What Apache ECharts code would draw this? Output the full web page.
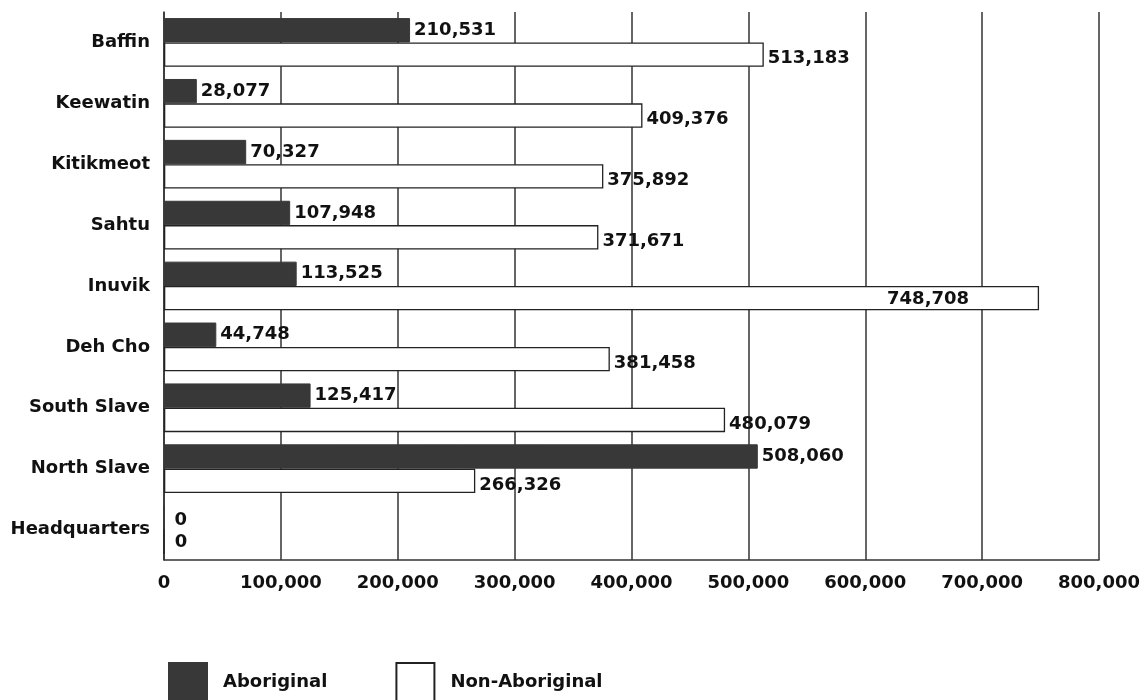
<!DOCTYPE html>
<html>
<head>
<meta charset="utf-8">
<script src="https://cdn.jsdelivr.net/npm/echarts@6/dist/echarts.min.js"></script>
<style>html,body{margin:0;padding:0;background:#fff}#c{width:1144px;height:700px}</style>
</head>
<body>
<div id="c"></div>
<script>
var categories = ['Baffin','Keewatin','Kitikmeot','Sahtu','Inuvik','Deh Cho','South Slave','North Slave','Headquarters'];
var aboriginal = [210531, 28077, 70327, 107948, 113525, 44748, 125417, 508060, 0];
var nonAboriginal = [513183, 409376, 375892, 371671, 748708, 381458, 480079, 266326, 0];
var seriesNames = ['Aboriginal', 'Non-Aboriginal'];

function fmt(v){ return String(v).replace(/\B(?=(\d{3})+(?!\d))/g, ','); }
var FONT = 'DejaVu Sans';
var labelBase = { show:true, position:'right', distance:4, fontFamily:FONT, fontWeight:'bold', fontSize:18, color:'#111',
  formatter:function(p){ return fmt(p.value); } };

var abData = aboriginal.map(function(v){
  var d = { value:v };
  if (v === 0) d.label = { distance:10, offset:[0,3] };
  return d;
});
var nonData = nonAboriginal.map(function(v, i){
  var d = { value:v };
  if (v === 0) d.label = { distance:10, offset:[0,1] };
  if (categories[i] === 'Inuvik') d.label = { position:'insideRight', distance:70, offset:[0,1] };
  return d;
});

var chart = echarts.init(document.getElementById('c'));
chart.setOption({
  animation:false,
  backgroundColor:'#fff',
  grid:{ left:164, right:45, top:12, bottom:140, containLabel:false },
  legend:{
    left:168, top:662, padding:0, itemWidth:38, itemHeight:38, itemGap:68, icon:'rect',
    textStyle:{ fontFamily:FONT, fontWeight:'bold', fontSize:18, color:'#111', padding:[0,0,0,11] },
    data:seriesNames
  },
  xAxis:{
    type:'value', min:0, max:800000, interval:100000,
    axisLine:{ show:true, lineStyle:{ color:'#333', width:1.5 } },
    axisTick:{ show:false },
    splitLine:{ show:true, lineStyle:{ color:'#333', width:1.5 } },
    axisLabel:{ margin:14, fontFamily:FONT, fontWeight:'bold', fontSize:18, color:'#111', formatter:function(v){ return fmt(v); } }
  },
  yAxis:{
    type:'category', data:categories, inverse:true,
    axisLine:{ show:true, lineStyle:{ color:'#333', width:1.5 } },
    axisTick:{ show:false },
    axisLabel:{ margin:14, fontFamily:FONT, fontWeight:'bold', fontSize:18, color:'#111' }
  },
  series:[
    { name:seriesNames[0], type:'bar', data:abData, barGap:'0%', barCategoryGap:'20%',
      itemStyle:{ color:'#383838', borderColor:'#383838', borderWidth:1 },
      label:labelBase },
    { name:seriesNames[1], type:'bar', data:nonData,
      itemStyle:{ color:'#fff', borderColor:'#222', borderWidth:1.3 },
      label:Object.assign({}, labelBase, { offset:[0,4] }) }
  ]
});
</script>
</body>
</html>
